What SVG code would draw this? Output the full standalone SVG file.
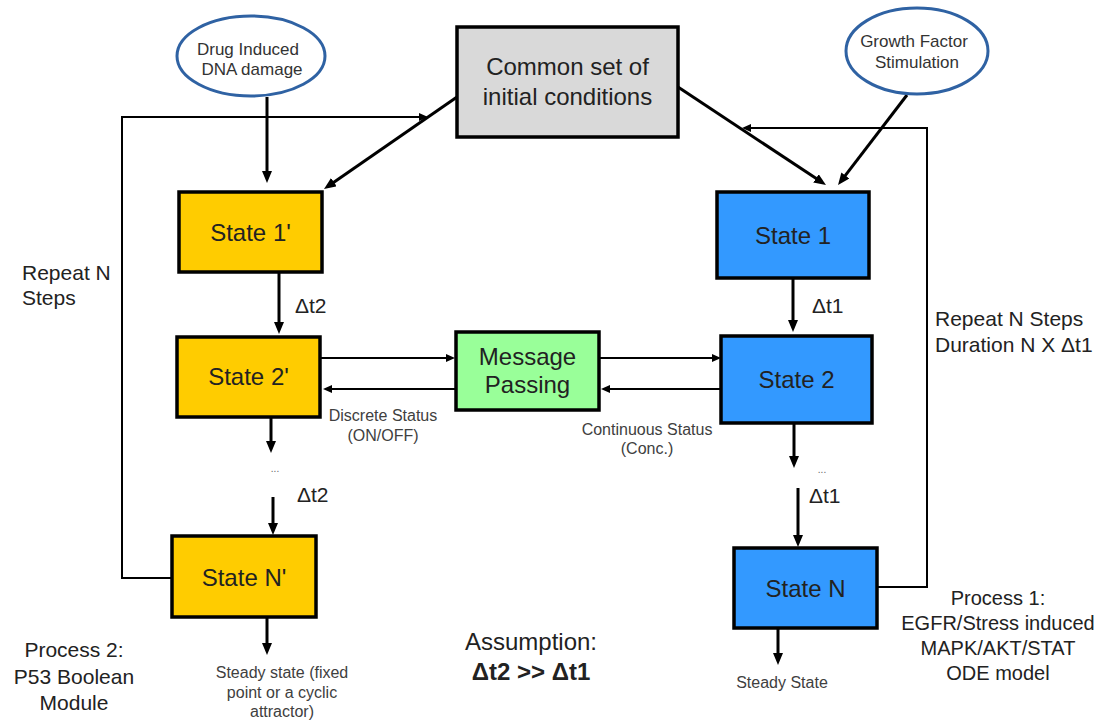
<svg xmlns="http://www.w3.org/2000/svg" width="1102" height="721" viewBox="0 0 1102 721">
<style>
text{font-family:"Liberation Sans",Arial,sans-serif;fill:#222;}
.c{text-anchor:middle;}
.box{stroke:#000;stroke-width:3.5;}
.ell{fill:#fff;stroke:#2f62a3;stroke-width:3;}
.thick{stroke:#000;stroke-width:3;fill:none;marker-end:url(#ah);}
.thin{stroke:#000;stroke-width:2;fill:none;marker-end:url(#as);}
.st{font-size:24px;}
.lbl{font-size:21px;}
.sm{font-size:16px;fill:#404040;}
.el{font-size:17px;fill:#333;}
.dots{font-size:10px;fill:#666;}
</style>
<defs>
<marker id="ah" markerUnits="userSpaceOnUse" markerWidth="12" markerHeight="10" refX="4" refY="5" orient="auto">
<path d="M0,0 L12,5 L0,10 z" fill="#000"/>
</marker>
<marker id="as" markerUnits="userSpaceOnUse" markerWidth="9" markerHeight="8" refX="3" refY="4" orient="auto">
<path d="M0,0 L9,4 L0,8 z" fill="#000"/>
</marker>
</defs>
<rect width="1102" height="721" fill="#fff"/>

<g id="connectors">
<line class="thick" x1="267" y1="97" x2="267" y2="175"/>
<line class="thick" x1="457" y1="97" x2="330.6" y2="184.4"/>
<line class="thick" x1="678" y1="87" x2="819.3" y2="180.6"/>
<line class="thick" x1="907" y1="95" x2="842.9" y2="178.6"/>
<line class="thick" x1="279" y1="272" x2="279" y2="326"/>
<line class="thick" x1="793" y1="278" x2="793" y2="324"/>
<line class="thick" x1="271" y1="417" x2="271" y2="445"/>
<line class="thick" x1="273" y1="497" x2="273" y2="527"/>
<line class="thick" x1="794" y1="423" x2="794" y2="460"/>
<line class="thick" x1="798" y1="488" x2="798" y2="539"/>
<line class="thick" x1="267" y1="617" x2="267" y2="647"/>
<line class="thick" x1="778" y1="628" x2="778" y2="657"/>
<polyline class="thin" points="172,578 122,578 122,117 422,117"/>
<polyline class="thin" points="877,587 927,587 927,128 748,128"/>
<line class="thin" x1="320" y1="358" x2="449" y2="358"/>
<line class="thin" x1="456" y1="389" x2="329" y2="389"/>
<line class="thin" x1="599" y1="358" x2="715" y2="358"/>
<line class="thin" x1="721" y1="389" x2="607" y2="389"/>
</g>

<g id="drug">
<ellipse class="ell" cx="251" cy="56" rx="74" ry="40"/>
<text class="c el" x="248" y="55">Drug Induced</text>
<text class="c el" x="252" y="75">DNA damage</text>
</g>
<g id="growth">
<ellipse class="ell" cx="917" cy="51" rx="71" ry="43"/>
<text class="c el" x="914" y="47">Growth Factor</text>
<text class="c el" x="917" y="68">Stimulation</text>
</g>
<g id="common">
<rect class="box" x="457" y="27" width="221" height="110" fill="#d9d9d9"/>
<text class="c st" x="567.5" y="75">Common set of</text>
<text class="c st" x="567.5" y="105">initial conditions</text>
</g>
<g id="state1p">
<rect class="box" x="179" y="192" width="143" height="80" fill="#ffcc00"/>
<text class="c st" x="250.5" y="241">State 1'</text>
</g>
<g id="state2p">
<rect class="box" x="177" y="337" width="143" height="80" fill="#ffcc00"/>
<text class="c st" x="248.5" y="385">State 2'</text>
</g>
<g id="stateNp">
<rect class="box" x="172" y="536" width="144" height="81" fill="#ffcc00"/>
<text class="c st" x="244" y="586">State N'</text>
</g>
<g id="state1">
<rect class="box" x="717" y="192" width="152" height="86" fill="#3399ff"/>
<text class="c st" x="793" y="244">State 1</text>
</g>
<g id="state2">
<rect class="box" x="721" y="336" width="151" height="87" fill="#3399ff"/>
<text class="c st" x="796.5" y="388">State 2</text>
</g>
<g id="stateN">
<rect class="box" x="734" y="548" width="143" height="80" fill="#3399ff"/>
<text class="c st" x="805.5" y="597">State N</text>
</g>
<g id="message">
<rect class="box" x="456" y="332" width="143" height="78" fill="#99ff99"/>
<text class="c st" x="527.5" y="365">Message</text>
<text class="c st" x="527.5" y="393">Passing</text>
</g>

<g id="labels">
<text class="lbl" x="295" y="313">Δt2</text>
<text class="lbl" x="812" y="313">Δt1</text>
<text class="lbl" x="297" y="502">Δt2</text>
<text class="lbl" x="809" y="503">Δt1</text>
<text class="c dots" x="275" y="472">...</text>
<text class="c dots" x="822" y="473">...</text>
<text class="c sm" x="383" y="421">Discrete Status</text>
<text class="c sm" x="383" y="441">(ON/OFF)</text>
<text class="c sm" x="647" y="435">Continuous Status</text>
<text class="c sm" x="647" y="454">(Conc.)</text>
<text class="c sm" x="282" y="678">Steady state (fixed</text>
<text class="c sm" x="282" y="698">point or a cyclic</text>
<text class="c sm" x="282" y="717">attractor)</text>
<text class="c sm" x="782" y="688">Steady State</text>
<text class="lbl" x="22" y="280">Repeat N</text>
<text class="lbl" x="22" y="305">Steps</text>
<text class="lbl" x="935" y="326">Repeat N Steps</text>
<text class="lbl" x="935" y="352">Duration N X Δt1</text>
<text class="c lbl" x="74" y="657">Process 2:</text>
<text class="c lbl" x="74" y="684">P53 Boolean</text>
<text class="c lbl" x="74" y="710">Module</text>
<text class="c" x="531" y="650" font-size="24">Assumption:</text>
<text class="c" x="531" y="680" font-size="24" font-weight="bold">Δt2 &gt;&gt; Δt1</text>
<text class="c" x="998" y="605" font-size="20">Process 1:</text>
<text class="c" x="998" y="630" font-size="20">EGFR/Stress induced</text>
<text class="c" x="998" y="655" font-size="20">MAPK/AKT/STAT</text>
<text class="c" x="998" y="680" font-size="20">ODE model</text>
</g>
</svg>
